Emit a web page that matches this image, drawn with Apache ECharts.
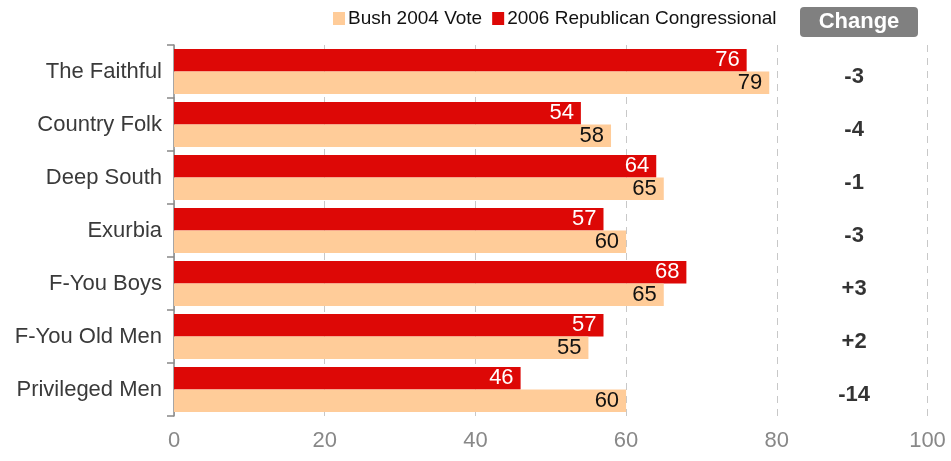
<!DOCTYPE html>
<html>
<head>
<meta charset="utf-8">
<script src="https://cdn.jsdelivr.net/npm/echarts@6/dist/echarts.min.js"></script>
<style>
  html, body { margin: 0; padding: 0; background: #fff; }
  #chart { width: 951px; height: 461px; }
</style>
</head>
<body>
<div id="chart"></div>
<script>
// Voter groups, top to bottom
var categories = ['The Faithful', 'Country Folk', 'Deep South', 'Exurbia', 'F-You Boys', 'F-You Old Men', 'Privileged Men'];
// Share of vote (%)
var bush2004 = [79, 58, 65, 60, 65, 55, 60];
var rep2006 = [76, 54, 64, 57, 68, 57, 46];
// X axis ticks
var xTicks = [0, 20, 40, 60, 80, 100];

// Point change from 2004 to 2006
var changes = rep2006.map(function (v, i) { return v - bush2004[i]; });
var changeLabels = changes.map(function (c) { return (c > 0 ? '+' : '') + c; });

var FONT = '"Liberation Sans", Arial, sans-serif';
var chart = echarts.init(document.getElementById('chart'), null, { renderer: 'canvas' });

chart.setOption({
  animation: false,
  textStyle: { fontFamily: FONT },
  grid: { left: 174, right: 23.5, top: 45, bottom: 45, containLabel: false },
  legend: {
    left: 333, top: 9, padding: 0,
    itemWidth: 12, itemHeight: 13, itemGap: 10,
    icon: 'rect',
    data: ['Bush 2004 Vote', '2006 Republican Congressional'],
    textStyle: { fontFamily: FONT, fontSize: 19, color: '#111', padding: [0, 0, 0, -2] }
  },
  xAxis: {
    type: 'value',
    min: xTicks[0], max: xTicks[xTicks.length - 1], interval: 20,
    axisLine: { show: false },
    axisTick: { show: false },
    axisLabel: { fontFamily: FONT, fontSize: 22, color: '#888', margin: 14 },
    splitLine: { show: true, lineStyle: { color: '#c8c8c8', type: [7, 6], width: 1 } }
  },
  yAxis: {
    type: 'category',
    inverse: true,
    data: categories,
    axisLine: { show: true, lineStyle: { color: '#888', width: 1.5 } },
    axisTick: { show: true, length: 7, lineStyle: { color: '#888', width: 1.5 } },
    axisLabel: { fontFamily: FONT, fontSize: 22, color: '#3a3a3a', margin: 12 }
  },
  graphic: [{
    type: 'group',
    left: 800, top: 7,
    children: [
      { type: 'rect', shape: { x: 0, y: 0, width: 118, height: 30, r: 4 }, style: { fill: '#808080' } },
      { type: 'text', x: 59, y: 15, style: { text: 'Change', fill: '#fff', font: 'bold 22px ' + FONT, align: 'center', verticalAlign: 'middle' } }
    ]
  }],
  series: [
    {
      name: '2006 Republican Congressional',
      type: 'bar',
      data: rep2006,
      barGap: '0%',
      barCategoryGap: '15%',
      itemStyle: { color: '#dd0806' },
      label: { show: true, position: 'insideRight', distance: 7, color: '#fff', fontFamily: FONT, fontSize: 22 }
    },
    {
      name: 'Bush 2004 Vote',
      type: 'bar',
      data: bush2004,
      barGap: '0%',
      barCategoryGap: '15%',
      itemStyle: { color: '#ffcc99' },
      label: { show: true, position: 'insideRight', distance: 7, color: '#111', fontFamily: FONT, fontSize: 22 }
    },
    {
      name: 'Change',
      type: 'scatter',
      symbolSize: 0,
      data: changeLabels.map(function (t, i) { return { value: [90, categories[i]], label: { formatter: t } }; }),
      label: { show: true, position: 'inside', offset: [2, 5], color: '#000', fontFamily: FONT, fontSize: 22, fontWeight: 'bold' },
      silent: true
    }
  ]
});
</script>
</body>
</html>
